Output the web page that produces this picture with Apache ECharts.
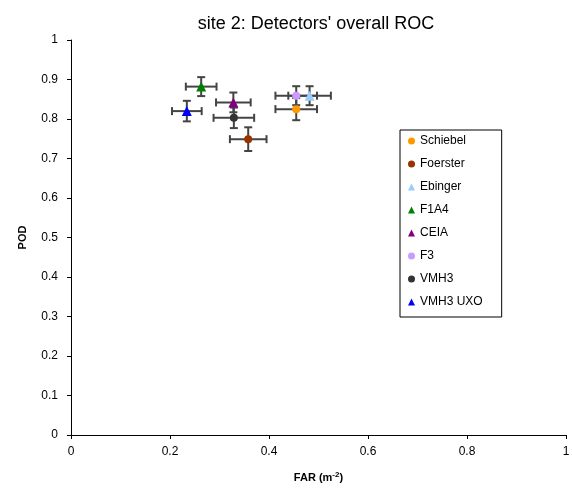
<!DOCTYPE html>
<html>
<head>
<meta charset="utf-8">
<script src="https://cdn.jsdelivr.net/npm/echarts@6/dist/echarts.min.js"></script>
<style>
    html, body { margin: 0; padding: 0; background: #fff; }
    #chart { width: 572px; height: 488px; }
</style>
</head>
<body>
<div id="chart"></div>
<script>
const DETECTORS = ['Schiebel', 'Foerster', 'Ebinger', 'F1A4', 'CEIA', 'F3', 'VMH3', 'VMH3 UXO'];
const FAR = [0.455, 0.358, 0.482, 0.263, 0.328, 0.455, 0.329, 0.234];
const POD = [0.825, 0.749, 0.859, 0.882, 0.842, 0.859, 0.803, 0.820];
const FAR_ERR = [0.042, 0.037, 0.043, 0.031, 0.035, 0.042, 0.041, 0.030];
const POD_ERR = [0.028, 0.030, 0.024, 0.024, 0.025, 0.024, 0.026, 0.026];

const X_TICKS = [0, 0.2, 0.4, 0.6, 0.8, 1];
const Y_TICKS = [0, 0.1, 0.2, 0.3, 0.4, 0.5, 0.6, 0.7, 0.8, 0.9, 1];

// styles
const COLORS = ['#FF9900', '#993300', '#99CCFF', '#008000', '#800080', '#CC99FF', '#333333', '#0000FF'];
const SYMBOLS = ['circle', 'circle', 'triangle', 'triangle', 'triangle', 'circle', 'circle', 'triangle'];
const FONT = 'Liberation Sans, Arial, sans-serif';

const myChart = echarts.init(document.getElementById('chart'), null, { renderer: 'canvas' });

const errData = DETECTORS.map((d, i) => [FAR[i], POD[i], FAR_ERR[i], POD_ERR[i]]);

const renderErr = (params, api) => {
    const x = api.value(0), y = api.value(1), ex = api.value(2), ey = api.value(3);
    const l = api.coord([x - ex, y]);
    const r = api.coord([x + ex, y]);
    const t = api.coord([x, y + ey]);
    const b = api.coord([x, y - ey]);
    const cap = 4;
    const style = { stroke: '#444', lineWidth: 2 };
    const line = (x1, y1, x2, y2) => ({ type: 'line', shape: { x1, y1, x2, y2 }, style });
    return {
        type: 'group',
        children: [
            line(l[0], l[1], r[0], r[1]),
            line(l[0], l[1] - cap, l[0], l[1] + cap),
            line(r[0], r[1] - cap, r[0], r[1] + cap),
            line(t[0], t[1], b[0], b[1]),
            line(t[0] - cap, t[1], t[0] + cap, t[1]),
            line(b[0] - cap, b[1], b[0] + cap, b[1])
        ]
    };
};

const tickFmt = ticks => v => ticks.indexOf(+v.toFixed(1)) >= 0 ? String(+v.toFixed(1)) : '';

const option = {
    animation: false,
    backgroundColor: '#fff',
    textStyle: { fontFamily: FONT },
    title: {
        text: "site 2: Detectors' overall ROC",
        left: 311,
        top: 10,
        textAlign: 'center',
        textStyle: { fontFamily: FONT, fontSize: 18, fontWeight: 'normal', color: '#000' }
    },
    legend: {
        orient: 'vertical',
        left: 400,
        top: 130,
        padding: [5, 19, 9, 8],
        itemGap: 11,
        itemWidth: 7,
        itemHeight: 7,
        borderColor: '#000',
        borderWidth: 1,
        textStyle: { fontFamily: FONT, fontSize: 12, color: '#000', lineHeight: 12 },
        data: DETECTORS.map((d, i) => ({ name: d, icon: SYMBOLS[i] }))
    },
    grid: { left: 71, right: 6, top: 40, bottom: 53, outerBoundsMode: 'none' },
    xAxis: {
        type: 'value',
        min: 0,
        max: 1,
        interval: 0.2,
        name: 'FAR (m{sup|-2})',
        nameLocation: 'middle',
        nameGap: 36,
        nameTextStyle: {
            fontFamily: FONT, fontSize: 11, fontWeight: 'bold', color: '#000',
            rich: { sup: { fontFamily: FONT, fontSize: 8, fontWeight: 'bold', verticalAlign: 'top', padding: [0, 0, 6, 0] } }
        },
        axisLine: { lineStyle: { color: '#000' } },
        axisTick: { show: true, length: 4, lineStyle: { color: '#000' } },
        axisLabel: { fontFamily: FONT, fontSize: 12, color: '#000', margin: 11, formatter: tickFmt(X_TICKS) },
        splitLine: { show: false }
    },
    yAxis: {
        type: 'value',
        min: 0,
        max: 1,
        interval: 0.1,
        name: 'POD',
        nameLocation: 'middle',
        nameGap: 43,
        nameTextStyle: { fontFamily: FONT, fontSize: 11, fontWeight: 'bold', color: '#000' },
        axisLine: { show: true, lineStyle: { color: '#000' } },
        axisTick: { show: true, length: 4, lineStyle: { color: '#000' } },
        axisLabel: { fontFamily: FONT, fontSize: 12, color: '#000', margin: 13, formatter: tickFmt(Y_TICKS) },
        splitLine: { show: false }
    },
    series: [
        {
            type: 'custom',
            name: 'err',
            renderItem: renderErr,
            data: errData,
            encode: { x: 0, y: 1 },
            z: 1,
            silent: true
        }
    ].concat(DETECTORS.map((d, i) => ({
        type: 'scatter',
        name: d,
        symbol: SYMBOLS[i],
        symbolSize: SYMBOLS[i] === 'triangle' ? 10 : 8,
        itemStyle: { color: COLORS[i], opacity: 1 },
        data: [[FAR[i], POD[i]]],
        z: 3
    })))
};

myChart.setOption(option);
</script>
</body>
</html>
